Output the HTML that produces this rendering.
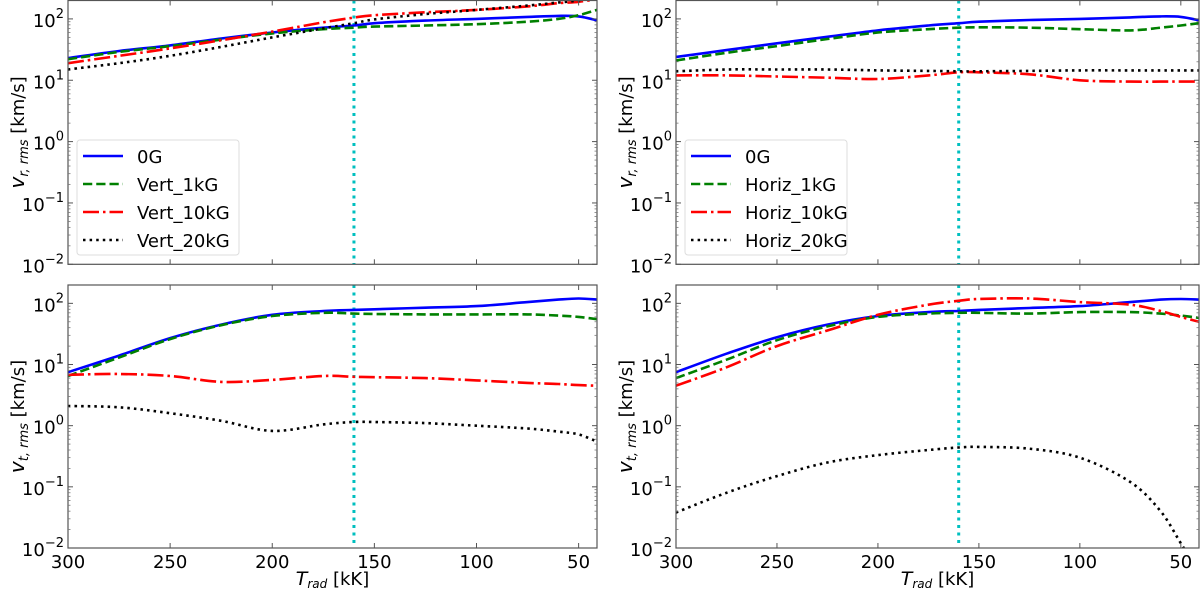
<!DOCTYPE html>
<html><head><meta charset="utf-8"><style>
html,body{margin:0;padding:0;background:#fff;}
svg{display:block;font-family:"DejaVu Sans","Liberation Sans",sans-serif;}
</style></head><body>
<svg id="fig" width="1200" height="591" viewBox="0 0 1200 591" xmlns="http://www.w3.org/2000/svg"></svg>
<script>
// ---- data ----
const tVals = [300,275,250,225,200,175,160,150,125,100,75,60,50,41];
const xTicks = [300,250,200,150,100,50];
const yTickExps = [-2,-1,0,1,2];
const vLine = 160;
// top-left (v_r, Vert)
const trL_0G   = [23,30,37,48,60,72,78,85,94,100,108,112,110,95];
const trL_1k   = [22,29,36,46,58,68,72,75,78,82,90,100,115,140];
const trL_10k  = [19,25,33,45,62,88,105,115,128,140,160,180,190,210];
const trL_20k  = [15,19,25,35,50,70,85,98,120,140,165,185,200,230];
// top-right (v_r, Horiz)
const trR_0G   = [24,31,40,51,65,78,85,90,96,100,106,110,108,95];
const trR_1k   = [21,28,36,47,60,68,72,73,72,68,65,72,78,85];
const trR_10k  = [12,12,11.5,11,10.5,12,13.5,13.5,12.5,10,9.5,9.5,9.5,9.5];
const trR_20k  = [14,15,15,15,14.5,14.2,14,14,14.2,14.5,14.5,14.5,14.5,14.5];
// bottom-left (v_t, Vert)
const tbL_0G   = [7.5,14,27,45,65,75,78,80,85,90,105,115,120,115];
const tbL_1k   = [6.5,13,26,44,62,70,68,67,66,66,66,63,60,55];
const tbL_10k  = [6.8,7,6.5,5.2,5.6,6.5,6.3,6.2,6,5.5,5,4.8,4.6,4.5];
const tbL_20k  = [2.1,2,1.6,1.2,0.82,1.05,1.15,1.15,1.1,1.0,0.9,0.8,0.72,0.55];
// bottom-right (v_t, Horiz)
const tbR_0G   = [7.5,15,28,45,62,72,75,78,84,90,105,115,118,115];
const tbR_1k   = [6,12,25,42,60,68,70,70,68,72,72,68,63,58];
const tbR_10k  = [4.5,9,20,36,65,95,110,118,120,105,95,75,60,50];
const tbR_20k  = [0.038,0.08,0.15,0.25,0.33,0.4,0.44,0.45,0.42,0.3,0.12,0.04,0.012,0.004];
const legLeft  = ["0G","Vert_1kG","Vert_10kG","Vert_20kG"];
const legRight = ["0G","Horiz_1kG","Horiz_10kG","Horiz_20kG"];

const NS="http://www.w3.org/2000/svg";
const svg=document.getElementById('fig');
function mk(tag,attrs,parent){const e=document.createElementNS(NS,tag);for(const k in attrs)e.setAttribute(k,attrs[k]);(parent||svg).appendChild(e);return e;}

const styles=[
 {c:'#0000ff',d:''},
 {c:'#008000',d:'9.25,4'},
 {c:'#ff0000',d:'16,4,2.5,4'},
 {c:'#000000',d:'2.5,4.1'}
];
const panels=[
 {name:'vr-vert',x0:68,x1:597,y0:0.5,y1:264.3,series:[trL_0G,trL_1k,trL_10k,trL_20k],leg:legLeft,ylab:'r',xl:false},
 {name:'vr-horiz',x0:676,x1:1199,y0:0.5,y1:264.3,series:[trR_0G,trR_1k,trR_10k,trR_20k],leg:legRight,ylab:'r',xl:false},
 {name:'vt-vert',x0:68,x1:597,y0:285,y1:548,series:[tbL_0G,tbL_1k,tbL_10k,tbL_20k],leg:null,ylab:'t',xl:true},
 {name:'vt-horiz',x0:676,x1:1199,y0:285,y1:548,series:[tbR_0G,tbR_1k,tbR_10k,tbR_20k],leg:null,ylab:'t',xl:true}
];
const TMAX=300,TMIN=41,LMIN=-2,LMAX=2.3;

function path(pts){
  let d='M'+pts[0][0].toFixed(1)+','+pts[0][1].toFixed(1);
  for(let i=0;i<pts.length-1;i++){
    const p0=pts[Math.max(0,i-1)],p1=pts[i],p2=pts[i+1],p3=pts[Math.min(pts.length-1,i+2)];
    const c1=[p1[0]+(p2[0]-p0[0])/6,p1[1]+(p2[1]-p0[1])/6];
    const c2=[p2[0]-(p3[0]-p1[0])/6,p2[1]-(p3[1]-p1[1])/6];
    d+='C'+c1[0].toFixed(1)+','+c1[1].toFixed(1)+' '+c2[0].toFixed(1)+','+c2[1].toFixed(1)+' '+p2[0].toFixed(1)+','+p2[1].toFixed(1);
  }
  return d;
}

panels.forEach((P,pi)=>{
  const g=mk('g',{});
  
  
  const X=t=>P.x0+(TMAX-t)/(TMAX-TMIN)*(P.x1-P.x0);
  const Y=v=>P.y1-(Math.log10(v)-LMIN)/(LMAX-LMIN)*(P.y1-P.y0);
  const clipId='clip'+pi;
  const cp=mk('clipPath',{id:clipId},g);
  mk('rect',{x:P.x0,y:P.y0,width:P.x1-P.x0,height:P.y1-P.y0},cp);
  const vl=mk('line',{x1:X(vLine),x2:X(vLine),y1:P.y0,y2:P.y1,stroke:'#00bfbf','stroke-width':3,'stroke-dasharray':'3,4.5'},g);
  
  
  const sg=mk('g',{'clip-path':'url(#'+clipId+')'},g);
  P.series.forEach((s,si)=>{
    const pts=s.map((v,i)=>[X(tVals[i]),Y(v)]);
    const e=mk('path',{d:path(pts),fill:'none',stroke:styles[si].c,'stroke-width':2.6,'stroke-dasharray':styles[si].d},sg);
    
    
  });
  const fr=mk('rect',{x:P.x0,y:P.y0,width:P.x1-P.x0,height:P.y1-P.y0,fill:'none',stroke:'#555','stroke-width':1.2},g);
  
  
  xTicks.forEach(t=>{
    const x=X(t);
    mk('line',{x1:x,x2:x,y1:P.y1,y2:P.y1-5,stroke:'#555','stroke-width':1},g);
    mk('line',{x1:x,x2:x,y1:P.y0,y2:P.y0+5,stroke:'#555','stroke-width':1},g);
    if(P.xl){
      const tx=mk('text',{x:x,y:P.y1+20,'font-size':18,'text-anchor':'middle',fill:'#000'},g);
      tx.textContent=t;
      
      
    }
  });
  yTickExps.forEach(e=>{
    const y=Y(Math.pow(10,e));
    mk('line',{x1:P.x0,x2:P.x0+5,y1:y,y2:y,stroke:'#555','stroke-width':1},g);
    mk('line',{x1:P.x1,x2:P.x1-5,y1:y,y2:y,stroke:'#555','stroke-width':1},g);
    const tx=mk('text',{x:P.x0-4,y:y+8,'font-size':18,'text-anchor':'end',fill:'#000'},g);
    const a=mk('tspan',{},tx);a.textContent='10';
    const b=mk('tspan',{dy:-9,'font-size':13},tx);b.textContent=e<0?'\u2212'+(-e):''+e;
    
    
  });
  for(let e=-2;e<3;e++){for(let m=2;m<10;m++){const v=m*Math.pow(10,e);if(Math.log10(v)>LMAX)break;const y=Y(v);
    mk('line',{x1:P.x0,x2:P.x0+2.5,y1:y,y2:y,stroke:'#777','stroke-width':0.8},g);
    mk('line',{x1:P.x1,x2:P.x1-2.5,y1:y,y2:y,stroke:'#777','stroke-width':0.8},g);}}
  const cy=(P.y0+P.y1)/2, lx=P.x0-44;
  const yl=mk('text',{x:0,y:0,'font-size':18,'text-anchor':'middle',transform:'translate('+lx+','+cy+') rotate(-90)',fill:'#000'},g);
  const t1=mk('tspan',{'font-style':'italic','font-size':20},yl);t1.textContent='v';
  const t2=mk('tspan',{'font-style':'italic','font-size':13,dy:4},yl);t2.textContent=P.ylab+', rms';
  const t3=mk('tspan',{dy:-4},yl);t3.textContent=' [km/s]';
  
  
  if(P.xl){
    const xl=mk('text',{x:(P.x0+P.x1)/2,y:P.y1+37,'font-size':18,'text-anchor':'middle',fill:'#000'},g);
    const a=mk('tspan',{'font-style':'italic','font-size':19},xl);a.textContent='T';
    const b=mk('tspan',{'font-style':'italic','font-size':12,dy:3},xl);b.textContent='rad';
    const c=mk('tspan',{dy:-3},xl);c.textContent=' [kK]';
    
    
  }
  if(P.leg){
    const lg=mk('g',{},g);
    
    
    const lx0=P.x0+9;
    mk('rect',{x:lx0,y:140,width:162,height:115,rx:3,fill:'#fff',stroke:'#ddd','stroke-width':1},lg);
    P.leg.forEach((n,i)=>{
      const y=156+i*28;
      mk('line',{x1:lx0+6,x2:lx0+46,y1:y,y2:y,stroke:styles[i].c,'stroke-width':2.6,'stroke-dasharray':styles[i].d},lg);
      const tx=mk('text',{x:lx0+60,y:y+7,'font-size':18,fill:'#000'},lg);
      tx.textContent=n;
      
      
    });
  }
});
</script>
</body></html>
